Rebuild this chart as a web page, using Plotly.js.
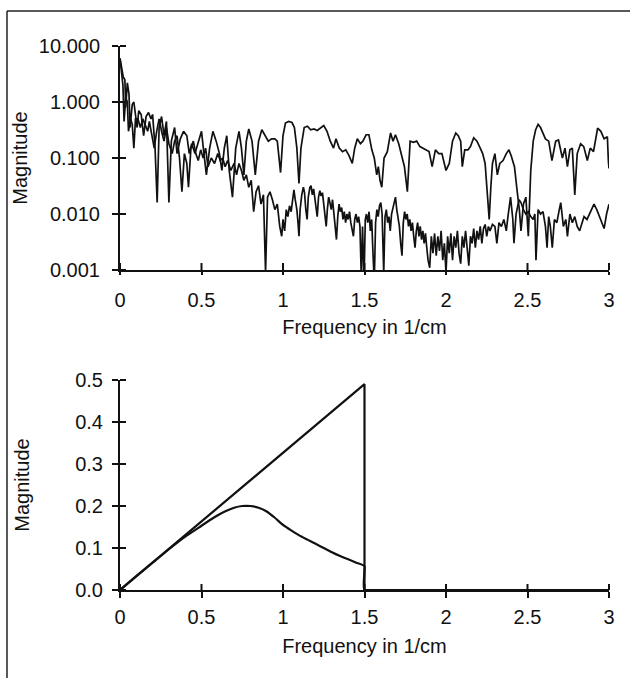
<!DOCTYPE html>
<html>
<head>
<meta charset="utf-8">
<script src="https://cdn.plot.ly/plotly-3.0.1.min.js"></script>
<style>
  html, body { margin: 0; padding: 0; background: #fff; }
  #chart { width: 630px; height: 678px; }
</style>
</head>
<body>
<div id="chart"></div>
<script>
// ---------- DATA ----------
// Top panel: two spectra (log magnitude) vs frequency (1/cm)
const specUpperFreq = [0.000,0.010,0.020,0.030,0.035,0.045,0.055,0.062,0.075,0.085,0.095,0.105,0.115,0.130,0.145,0.160,0.175,0.190,0.200,0.215,0.228,0.240,0.255,0.270,0.285,0.300,0.315,0.335,0.350,0.370,0.390,0.410,0.425,0.440,0.460,0.480,0.500,0.515,0.530,0.550,0.570,0.590,0.610,0.625,0.640,0.655,0.670,0.690,0.710,0.730,0.745,0.760,0.775,0.790,0.810,0.830,0.850,0.870,0.890,0.910,0.930,0.950,0.965,0.985,1.000,1.015,1.035,1.055,1.070,1.085,1.098,1.110,1.130,1.150,1.170,1.190,1.210,1.230,1.250,1.270,1.290,1.310,1.325,1.345,1.365,1.385,1.405,1.425,1.440,1.456,1.475,1.490,1.510,1.527,1.545,1.560,1.575,1.585,1.595,1.606,1.620,1.640,1.660,1.675,1.690,1.710,1.730,1.745,1.763,1.780,1.800,1.820,1.840,1.860,1.880,1.896,1.915,1.935,1.955,1.975,2.000,2.020,2.040,2.060,2.075,2.090,2.100,2.115,2.135,2.150,2.170,2.190,2.210,2.225,2.240,2.254,2.265,2.275,2.285,2.300,2.315,2.330,2.350,2.370,2.386,2.400,2.420,2.437,2.450,2.460,2.475,2.490,2.505,2.520,2.535,2.550,2.565,2.580,2.595,2.610,2.630,2.650,2.673,2.690,2.714,2.730,2.745,2.760,2.775,2.790,2.805,2.826,2.845,2.867,2.885,2.905,2.930,2.950,2.970,2.990,2.996,3.000];
const specUpperMag = [6.0,4.0,2.8,2.5,0.8,2.2,1.4,0.35,0.9,1.0,0.6,0.35,0.7,0.6,0.25,0.55,0.65,0.5,0.6,0.15,0.016,0.35,0.55,0.25,0.45,0.016,0.2,0.35,0.12,0.22,0.3,0.25,0.12,0.18,0.12,0.2,0.3,0.12,0.05,0.15,0.3,0.2,0.12,0.06,0.15,0.25,0.06,0.02,0.15,0.3,0.15,0.05,0.2,0.33,0.2,0.05,0.2,0.32,0.25,0.2,0.22,0.22,0.2,0.055,0.25,0.42,0.45,0.43,0.35,0.15,0.035,0.15,0.35,0.37,0.32,0.33,0.31,0.34,0.38,0.3,0.2,0.15,0.22,0.15,0.13,0.14,0.11,0.08,0.15,0.22,0.18,0.2,0.26,0.26,0.14,0.1,0.05,0.07,0.04,0.03,0.1,0.13,0.28,0.2,0.26,0.18,0.1,0.07,0.025,0.2,0.19,0.2,0.16,0.15,0.14,0.13,0.07,0.14,0.12,0.12,0.06,0.08,0.2,0.28,0.25,0.2,0.07,0.14,0.14,0.16,0.23,0.2,0.15,0.12,0.08,0.027,0.008,0.03,0.08,0.12,0.05,0.08,0.09,0.12,0.14,0.11,0.07,0.025,0.012,0.005,0.015,0.02,0.004,0.06,0.2,0.32,0.4,0.35,0.28,0.22,0.2,0.09,0.2,0.21,0.1,0.15,0.07,0.14,0.15,0.022,0.12,0.18,0.16,0.09,0.15,0.13,0.34,0.3,0.22,0.24,0.09,0.065];

const specLowerFreq = [0.000,0.008,0.018,0.025,0.035,0.045,0.052,0.065,0.075,0.085,0.095,0.110,0.125,0.140,0.155,0.170,0.180,0.195,0.210,0.225,0.240,0.255,0.270,0.285,0.300,0.320,0.335,0.350,0.365,0.380,0.395,0.410,0.420,0.435,0.450,0.465,0.480,0.495,0.510,0.525,0.540,0.560,0.580,0.600,0.615,0.630,0.645,0.660,0.680,0.700,0.715,0.730,0.745,0.760,0.775,0.790,0.805,0.820,0.835,0.850,0.865,0.880,0.893,0.905,0.920,0.935,0.950,0.965,0.980,0.992,
  1.000,1.010,1.020,1.030,1.040,1.050,1.060,1.067,1.075,1.085,1.092,1.098,1.105,1.115,1.125,1.132,1.140,1.148,1.155,1.165,1.172,1.180,1.188,1.195,1.203,1.210,1.218,1.226,1.234,1.242,1.250,1.258,1.265,1.272,1.280,1.288,1.296,1.304,1.312,1.320,1.328,1.336,1.344,1.352,1.360,1.368,1.376,1.384,1.392,1.400,1.408,1.416,1.424,1.432,1.440,1.448,1.456,1.464,1.472,1.480,1.488,1.497,
  1.505,1.512,1.520,1.528,1.536,1.544,1.552,1.560,1.568,1.576,1.584,1.592,1.600,1.608,1.618,1.626,1.634,1.642,1.650,1.658,1.666,1.674,1.682,1.690,1.698,1.706,1.714,1.722,1.730,1.738,1.746,1.754,1.762,1.770,1.778,1.786,1.794,1.802,1.810,1.818,1.826,1.834,1.842,1.850,1.858,1.866,1.874,1.882,1.890,
  1.900,1.910,1.920,1.930,1.940,1.950,1.960,1.970,1.980,1.990,2.000,2.010,2.020,2.030,2.040,2.050,2.060,2.070,2.080,2.090,2.100,2.110,2.120,2.130,2.140,2.150,2.160,2.170,2.180,2.190,2.200,2.210,2.220,2.230,2.240,2.250,2.260,2.270,2.285,2.300,2.312,2.325,2.340,2.355,2.370,2.380,2.396,2.410,2.417,2.430,2.448,2.460,2.475,2.490,2.505,2.520,2.535,2.545,2.552,2.565,2.580,2.595,2.610,2.620,2.630,2.640,2.652,2.665,2.680,2.695,2.704,2.720,2.735,2.745,2.760,2.775,2.790,2.805,2.820,2.835,2.847,2.865,2.880,2.895,2.908,2.925,2.940,2.955,2.970,2.985,3.000];
const specLowerMag = [6.0,3.5,2.0,0.45,1.2,1.0,0.3,0.5,0.4,0.15,0.5,0.5,0.35,0.5,0.4,0.3,0.45,0.25,0.15,0.3,0.5,0.3,0.2,0.35,0.18,0.12,0.2,0.25,0.1,0.025,0.12,0.08,0.03,0.15,0.2,0.12,0.09,0.14,0.1,0.15,0.07,0.1,0.08,0.12,0.09,0.1,0.07,0.09,0.06,0.08,0.05,0.08,0.06,0.04,0.05,0.03,0.04,0.011,0.025,0.032,0.015,0.022,0.0009,0.02,0.025,0.018,0.012,0.015,0.006,0.004,
  0.008,0.005,0.012,0.009,0.014,0.011,0.02,0.027,0.018,0.012,0.007,0.004,0.012,0.022,0.03,0.024,0.012,0.008,0.02,0.03,0.032,0.022,0.028,0.018,0.012,0.009,0.02,0.026,0.021,0.024,0.015,0.009,0.006,0.012,0.02,0.016,0.012,0.018,0.011,0.007,0.0035,0.009,0.015,0.011,0.013,0.008,0.011,0.007,0.01,0.008,0.011,0.007,0.0055,0.004,0.008,0.01,0.007,0.009,0.006,0.0008,0.006,0.0006,
  0.008,0.01,0.007,0.011,0.005,0.008,0.002,0.0006,0.007,0.012,0.009,0.014,0.016,0.01,0.0009,0.009,0.012,0.007,0.009,0.005,0.01,0.013,0.017,0.02,0.012,0.008,0.006,0.003,0.0018,0.007,0.011,0.008,0.01,0.006,0.008,0.005,0.007,0.004,0.0025,0.005,0.007,0.004,0.006,0.0035,0.005,0.003,0.0045,0.0025,0.0015,
  0.0011,0.004,0.002,0.0045,0.0018,0.004,0.0022,0.005,0.0015,0.003,0.0009,0.004,0.002,0.0045,0.0015,0.004,0.0025,0.005,0.002,0.0013,0.004,0.0025,0.005,0.002,0.0012,0.004,0.003,0.0055,0.0025,0.005,0.0035,0.006,0.003,0.0055,0.0065,0.004,0.006,0.005,0.0065,0.006,0.003,0.007,0.006,0.008,0.005,0.009,0.02,0.008,0.003,0.01,0.018,0.016,0.012,0.01,0.011,0.009,0.008,0.01,0.0015,0.012,0.01,0.011,0.006,0.0025,0.009,0.006,0.0025,0.008,0.007,0.012,0.016,0.006,0.008,0.004,0.01,0.007,0.009,0.006,0.005,0.007,0.009,0.008,0.01,0.013,0.015,0.012,0.009,0.007,0.0055,0.01,0.015];

// Bottom panel: ramp filter and windowed ramp filter
const rampFreq = [0, 1.5, 1.5, 3];
const rampMag  = [0, 0.49, 0, 0];
const windowedFreq = [0,0.1,0.2,0.3,0.4,0.5,0.55,0.6,0.65,0.7,0.75,0.8,0.85,0.9,0.95,1.0,1.05,1.1,1.15,1.2,1.25,1.3,1.35,1.4,1.45,1.5,1.5,3];
const windowedMag  = [0,0.033,0.065,0.097,0.127,0.153,0.166,0.178,0.188,0.196,0.2,0.2,0.196,0.187,0.172,0.155,0.142,0.13,0.12,0.11,0.1,0.09,0.081,0.073,0.065,0.057,0,0];

// Tick labels
const freqTicks = [0, 0.5, 1, 1.5, 2, 2.5, 3];
const freqTickText = ['0', '0.5', '1', '1.5', '2', '2.5', '3'];
const logTicks = [0.001, 0.01, 0.1, 1, 10];
const logTickText = ['0.001', '0.010', '0.100', '1.000', '10.000'];
const linTicks = [0, 0.1, 0.2, 0.3, 0.4, 0.5];
const linTickText = ['0.0', '0.1', '0.2', '0.3', '0.4', '0.5'];

// ---------- CHART ----------
const FONT = { family: 'Liberation Sans, Arial, Helvetica, sans-serif', size: 20, color: '#111' };
const INK = '#111';
const W = 630, H = 678;
const MARGIN = { l: 120, r: 21, t: 46, b: 88 };
const PLOT_W = W - MARGIN.l - MARGIN.r;
const PLOT_H = H - MARGIN.t - MARGIN.b;
const X_RANGE = [0, 3];
const TOP_DOMAIN = [0.5882, 1];
const BOTTOM_DOMAIN = [0, 0.386];
const TOP_RANGE = [-3, 1];      // log10 units
const BOTTOM_RANGE = [0, 0.5];

const traces = [
  { x: specUpperFreq, y: specUpperMag, type: 'scatter', mode: 'lines', line: { color: INK, width: 1.7 }, xaxis: 'x', yaxis: 'y', hoverinfo: 'skip' },
  { x: specLowerFreq, y: specLowerMag, type: 'scatter', mode: 'lines', line: { color: INK, width: 1.7 }, xaxis: 'x', yaxis: 'y', hoverinfo: 'skip' },
  { x: rampFreq, y: rampMag, type: 'scatter', mode: 'lines', line: { color: INK, width: 2.2 }, xaxis: 'x2', yaxis: 'y2', hoverinfo: 'skip' },
  { x: windowedFreq, y: windowedMag, type: 'scatter', mode: 'lines', line: { color: INK, width: 2.2, shape: 'spline', smoothing: 0.4 }, xaxis: 'x2', yaxis: 'y2', hoverinfo: 'skip' }
];

const baseX = (anchor, standoffLabels, standoffTitle, len) => ({
  anchor: anchor, range: X_RANGE, domain: [0, 1],
  tickmode: 'array', tickvals: freqTicks, ticktext: freqTickText,
  ticks: 'outside', ticklen: len, tickwidth: 2, tickcolor: INK,
  showline: true, linewidth: 2, linecolor: INK,
  showgrid: false, zeroline: false, fixedrange: true,
  tickfont: FONT, ticklabelstandoff: standoffLabels,
  title: { text: 'Frequency in 1/cm', font: FONT, standoff: standoffTitle }
});
const baseY = (anchor, type, range, domain, vals, text, labelStandoff, titleStandoff) => ({
  anchor: anchor, type: type, range: range, domain: domain,
  tickmode: 'array', tickvals: vals, ticktext: text,
  ticks: 'outside', ticklen: 6, tickwidth: 2, tickcolor: INK,
  showline: true, linewidth: 2, linecolor: INK,
  showgrid: false, zeroline: false, fixedrange: true,
  tickfont: FONT, ticklabelstandoff: labelStandoff,
  title: { text: 'Magnitude', font: FONT, standoff: titleStandoff }
});

// inner halves of the crossing tick marks (paper coordinates derived from the tick values)
const xFrac = t => (t - X_RANGE[0]) / (X_RANGE[1] - X_RANGE[0]);
const yFrac = (v, range, domain) => domain[0] + (v - range[0]) / (range[1] - range[0]) * (domain[1] - domain[0]);
const innerXTicks = (domain, lenPx) => freqTicks.map(t => ({
  type: 'line', xref: 'paper', yref: 'paper', layer: 'above',
  x0: xFrac(t), x1: xFrac(t), y0: domain[0], y1: domain[0] + lenPx / PLOT_H,
  line: { color: INK, width: 2 }
}));
const innerYTicks = (vals, toAxis, range, domain, lenPx) => vals.map(v => {
  const p = yFrac(toAxis(v), range, domain);
  return {
    type: 'line', xref: 'paper', yref: 'paper', layer: 'above',
    x0: 0, x1: lenPx / PLOT_W, y0: p, y1: p,
    line: { color: INK, width: 2 }
  };
});

const frame = [
  { type: 'line', xref: 'paper', yref: 'paper', x0: -113 / PLOT_W, x1: (W - MARGIN.l) / PLOT_W, y0: 1 + 35 / PLOT_H, y1: 1 + 35 / PLOT_H, line: { color: '#222', width: 1.5 } },
  { type: 'line', xref: 'paper', yref: 'paper', x0: -113 / PLOT_W, x1: -113 / PLOT_W, y0: 1 + 35 / PLOT_H, y1: -MARGIN.b / PLOT_H - 0.01, line: { color: '#222', width: 1.5 } }
];

const layout = {
  width: W, height: H,
  margin: MARGIN,
  paper_bgcolor: '#ffffff', plot_bgcolor: 'rgba(0,0,0,0)',
  showlegend: false,
  font: FONT,
  xaxis: baseX('y', 8, 10, 3),
  yaxis: baseY('x', 'log', TOP_RANGE, TOP_DOMAIN, logTicks, logTickText, 8, 6),
  xaxis2: baseX('y2', 2, 12, 6),
  yaxis2: baseY('x2', 'linear', BOTTOM_RANGE, BOTTOM_DOMAIN, linTicks, linTickText, 5, 40),
  shapes: frame.concat(
    innerXTicks(TOP_DOMAIN, 7),
    innerYTicks(logTicks, Math.log10, TOP_RANGE, TOP_DOMAIN, 6),
    innerXTicks(BOTTOM_DOMAIN, 6),
    innerYTicks(linTicks, v => v, BOTTOM_RANGE, BOTTOM_DOMAIN, 6)
  )
};

Plotly.newPlot('chart', traces, layout, { displayModeBar: false, staticPlot: true });
</script>
</body>
</html>
